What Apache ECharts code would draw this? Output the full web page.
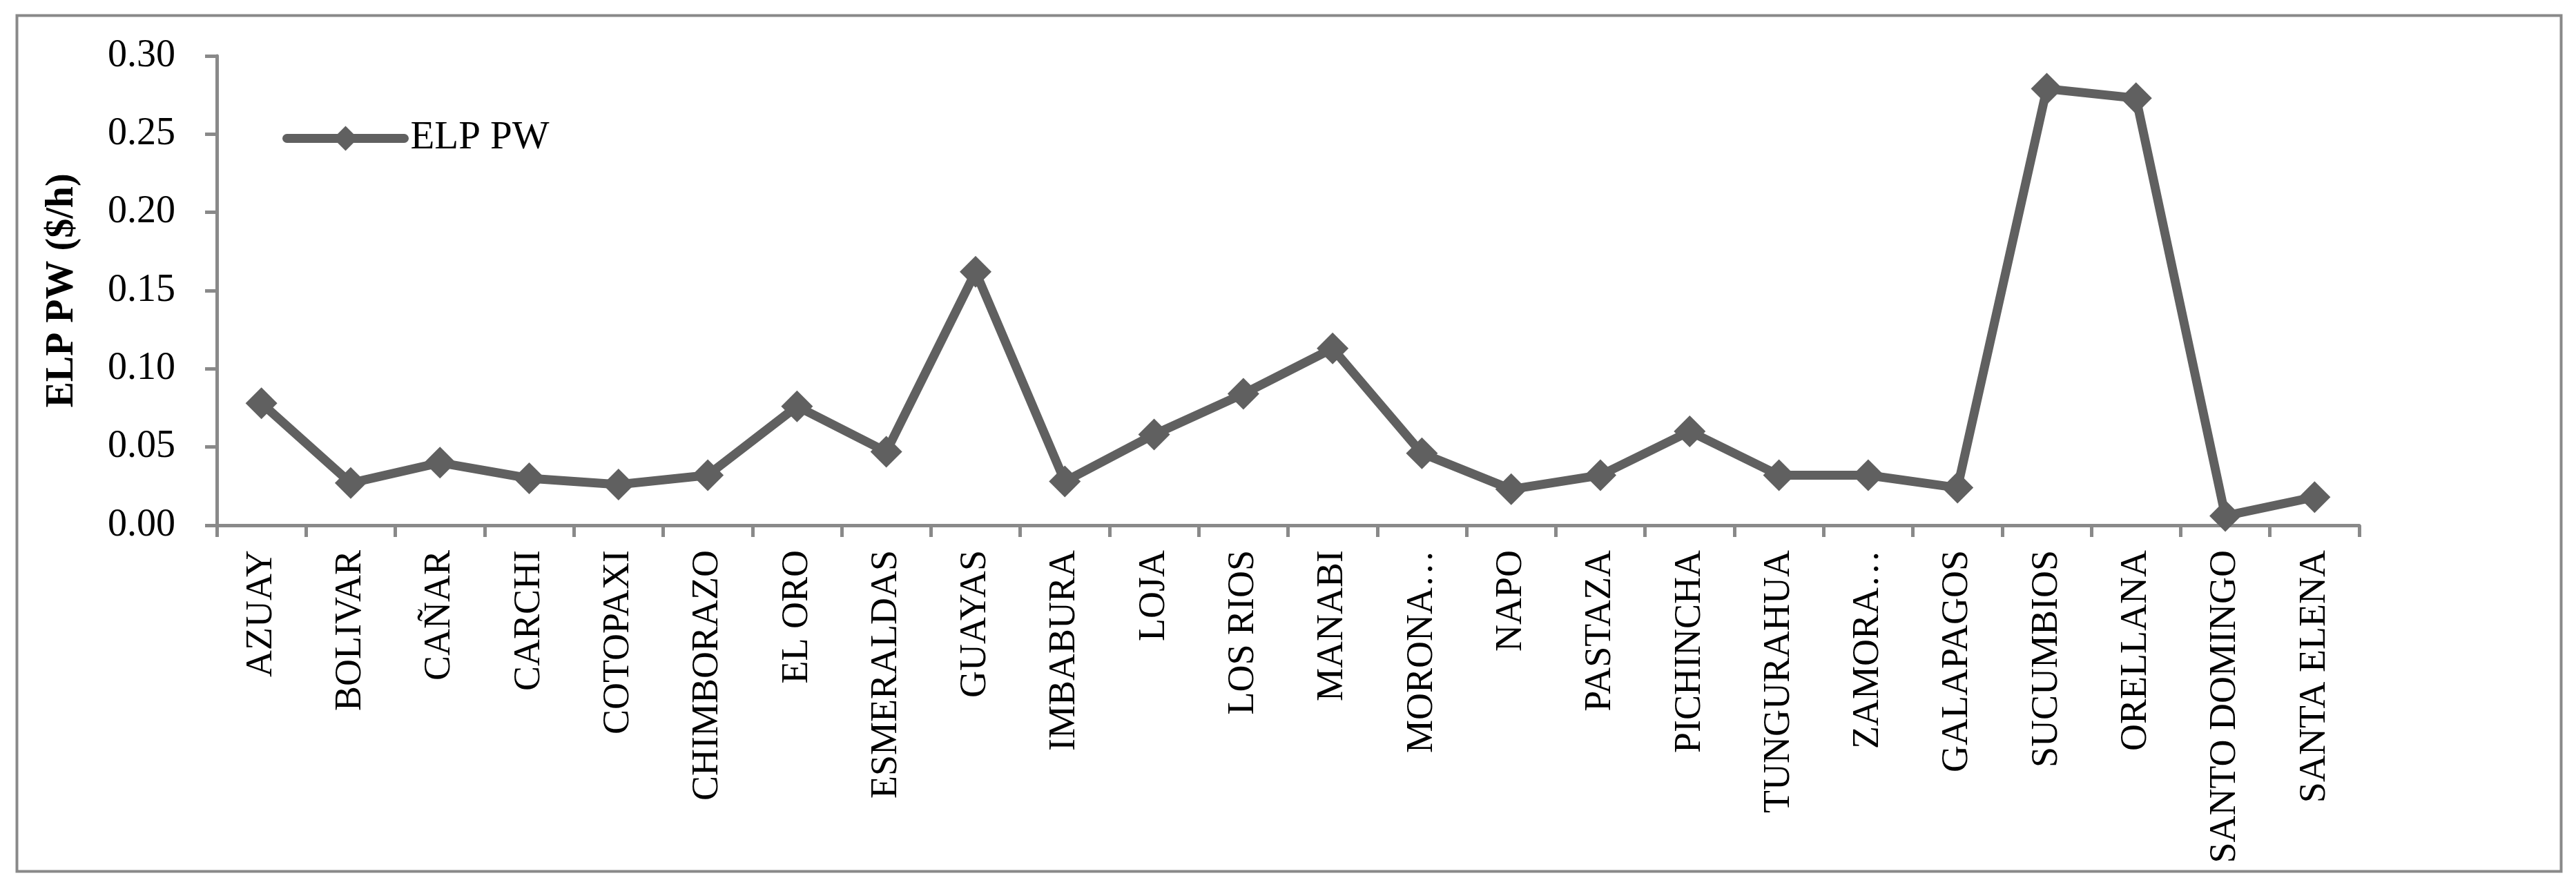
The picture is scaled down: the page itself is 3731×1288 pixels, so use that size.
<!DOCTYPE html>
<html>
<head>
<meta charset="utf-8">
<script src="https://cdn.jsdelivr.net/npm/echarts@6/dist/echarts.min.js"></script>
<style>
html,body{margin:0;padding:0;background:#fff;}
#chart{width:3731px;height:1288px;}
</style>
</head>
<body>
<div id="chart"></div>
<script>
const categories = ["AZUAY","BOLIVAR","CAÑAR","CARCHI","COTOPAXI","CHIMBORAZO","EL ORO","ESMERALDAS","GUAYAS","IMBABURA","LOJA","LOS RIOS","MANABI","MORONA…","NAPO","PASTAZA","PICHINCHA","TUNGURAHUA","ZAMORA…","GALAPAGOS","SUCUMBIOS","ORELLANA","SANTO DOMINGO","SANTA ELENA"];
const elpPW = [0.078,0.027,0.040,0.030,0.026,0.032,0.076,0.047,0.162,0.028,0.058,0.084,0.113,0.046,0.023,0.032,0.060,0.032,0.032,0.024,0.279,0.273,0.006,0.018];
const seriesName = "ELP PW";
const yAxisName = "ELP PW ($/h)";

const FONT = "Liberation Serif";
const AXIS = "#898989";
const LINE = "#606060";

const chart = echarts.init(document.getElementById('chart'), null, {renderer:'canvas'});
chart.setOption({
  backgroundColor:'#fff',
  animation:false,
  graphic:[{
    type:'rect', left:22, top:20,
    shape:{width:3685, height:1240},
    style:{fill:'none', stroke:AXIS, lineWidth:4}
  }],
  legend:{
    left:404, top:167,
    itemWidth:170, itemHeight:45,
    data:[seriesName],
    lineStyle:{width:13, color:LINE, cap:'round'},
    itemStyle:{color:LINE},
    textStyle:{fontFamily:FONT, fontSize:57, color:'#000', padding:[0,0,0,4]}
  },
  grid:{left:314, right:314, top:81, bottom:527, containLabel:false},
  xAxis:{
    type:'category', data:categories, boundaryGap:true,
    axisLine:{lineStyle:{color:AXIS, width:5}},
    axisTick:{show:true, length:17, lineStyle:{color:AXIS, width:5}},
    axisLabel:{rotate:90, margin:36, interval:0, fontFamily:FONT, fontSize:54, color:'#000'},
    splitLine:{show:false}
  },
  yAxis:{
    type:'value', min:0, max:0.30, interval:0.05,
    name:yAxisName, nameLocation:'middle', nameGap:195, nameRotate:90,
    nameTextStyle:{fontFamily:FONT, fontSize:56, fontWeight:'bold', color:'#000'},
    axisLine:{show:true, lineStyle:{color:AXIS, width:5}},
    axisTick:{show:true, length:17, lineStyle:{color:AXIS, width:5}},
    axisLabel:{margin:60, fontFamily:FONT, fontSize:56, color:'#000', formatter:v=>v.toFixed(2)},
    splitLine:{show:false}
  },
  series:[{
    name:seriesName, type:'line', data:elpPW,
    symbol:'diamond', symbolSize:46,
    lineStyle:{color:LINE, width:13, cap:'round', join:'round'},
    itemStyle:{color:LINE}
  }]
});
</script>
</body>
</html>
